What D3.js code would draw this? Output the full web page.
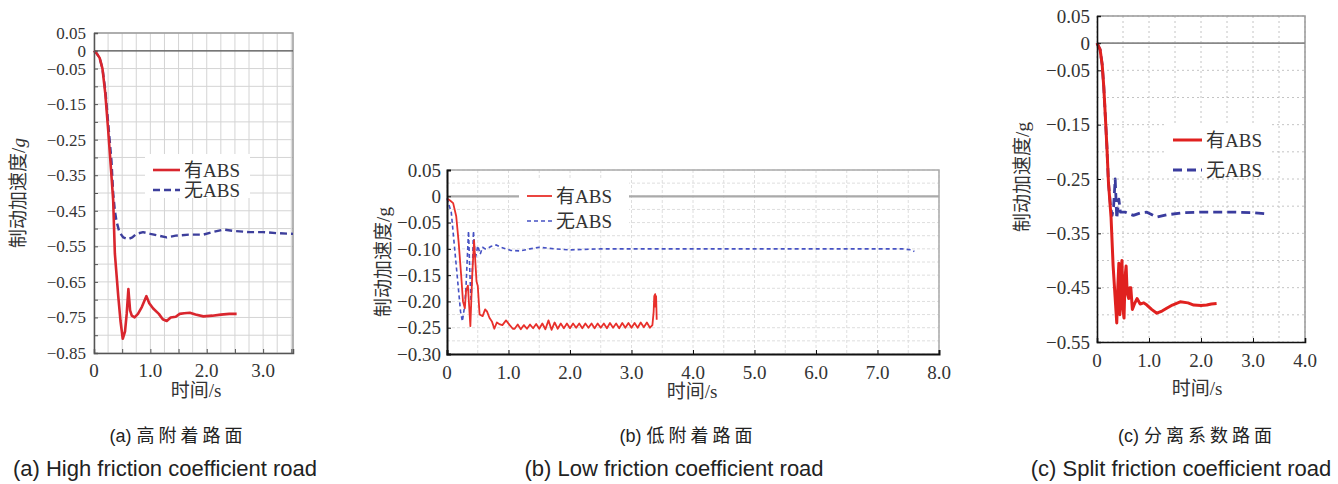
<!DOCTYPE html>
<html>
<head>
<meta charset="utf-8">
<script src="https://cdn.jsdelivr.net/npm/d3@7"></script>
<style>
  body { margin: 0; background: #fff; }
  svg { display: block; }
</style>
</head>
<body>
<svg id="chart" width="1338" height="484"></svg>
<script>
// ---- data (time in s, braking deceleration in g) ----
var legendNames = ["有ABS", "无ABS"];

var highWithAbs = [[0,0],[0.05,-0.008],[0.1,-0.02],[0.15,-0.05],[0.2,-0.12],[0.25,-0.22],[0.3,-0.33],[0.34,-0.42],
  [0.37,-0.57],[0.43,-0.69],[0.47,-0.76],[0.51,-0.81],[0.55,-0.79],[0.58,-0.74],[0.61,-0.67],[0.64,-0.73],
  [0.67,-0.745],[0.72,-0.75],[0.78,-0.74],[0.85,-0.72],[0.93,-0.69],[0.98,-0.71],[1.05,-0.725],[1.15,-0.74],
  [1.22,-0.755],[1.29,-0.76],[1.36,-0.75],[1.45,-0.748],[1.52,-0.74],[1.6,-0.738],[1.7,-0.737],[1.8,-0.742],
  [1.94,-0.747],[2.1,-0.745],[2.25,-0.742],[2.4,-0.74],[2.53,-0.74]];
var highNoAbs = [[0,0],[0.05,-0.008],[0.1,-0.02],[0.15,-0.05],[0.2,-0.11],[0.25,-0.2],[0.31,-0.31],[0.34,-0.4],
  [0.37,-0.45],[0.4,-0.48],[0.45,-0.51],[0.52,-0.525],[0.6,-0.53],[0.68,-0.525],[0.75,-0.515],[0.87,-0.51],
  [1.0,-0.515],[1.15,-0.52],[1.29,-0.525],[1.45,-0.52],[1.7,-0.517],[1.94,-0.517],[2.1,-0.51],[2.3,-0.503],
  [2.5,-0.507],[2.75,-0.51],[3.0,-0.51],[3.25,-0.513],[3.53,-0.515]];

var lowWithAbs = [[0,-0.004],[0.05,-0.008],[0.1,-0.013],[0.15,-0.038],[0.19,-0.088],[0.23,-0.15],[0.26,-0.2],
  [0.29,-0.213],[0.31,-0.18],[0.34,-0.17],[0.38,-0.247],[0.41,-0.15],[0.44,-0.084],[0.48,-0.162],[0.5,-0.17],
  [0.53,-0.225],[0.58,-0.228],[0.62,-0.215],[0.65,-0.219],[0.69,-0.231],[0.73,-0.238],[0.77,-0.252],[0.81,-0.24],
  [0.85,-0.243],[0.9,-0.245],[0.96,-0.236],[1.02,-0.245],[1.07,-0.252],
  [1.10,-0.252],[1.15,-0.244],[1.20,-0.253],[1.25,-0.245],[1.30,-0.252],[1.35,-0.244],[1.40,-0.251],[1.45,-0.243],
  [1.50,-0.252],[1.55,-0.242],[1.60,-0.253],[1.65,-0.236],[1.70,-0.254],[1.75,-0.240],[1.80,-0.252],[1.85,-0.242],
  [1.90,-0.251],[1.95,-0.242],[2.00,-0.251],[2.05,-0.242],[2.10,-0.250],[2.15,-0.242],[2.20,-0.251],[2.25,-0.242],
  [2.30,-0.250],[2.35,-0.242],[2.40,-0.251],[2.45,-0.242],[2.50,-0.250],[2.55,-0.242],[2.60,-0.251],[2.65,-0.241],
  [2.70,-0.250],[2.75,-0.242],[2.80,-0.251],[2.85,-0.241],[2.90,-0.250],[2.95,-0.241],[3.00,-0.250],[3.05,-0.241],
  [3.10,-0.250],[3.15,-0.240],[3.20,-0.249],[3.25,-0.240],[3.30,-0.250],[3.34,-0.245],[3.36,-0.22],[3.37,-0.19],
  [3.385,-0.186],[3.39,-0.21],[3.40,-0.19],[3.41,-0.235]];
var lowNoAbs = [[0,-0.004],[0.07,-0.031],[0.12,-0.094],[0.18,-0.169],[0.22,-0.219],[0.25,-0.238],[0.29,-0.206],
  [0.31,-0.169],[0.35,-0.066],[0.37,-0.14],[0.39,-0.2],[0.41,-0.15],[0.43,-0.066],[0.46,-0.119],[0.5,-0.094],
  [0.54,-0.11],[0.58,-0.097],[0.62,-0.1],[0.66,-0.099],[0.72,-0.095],[0.8,-0.0925],[0.88,-0.097],[0.96,-0.1],
  [1.04,-0.103],[1.19,-0.104],[1.35,-0.1],[1.5,-0.097],[1.75,-0.1],[2.0,-0.102],[2.5,-0.1],[3.0,-0.1],[4.0,-0.1],
  [5.0,-0.1],[6.0,-0.1],[7.0,-0.1],[7.4,-0.1],[7.55,-0.102],[7.6,-0.105]];

var splitWithAbs = [[0,0],[0.03,-0.006],[0.06,-0.012],[0.1,-0.04],[0.13,-0.08],[0.16,-0.134],[0.19,-0.19],
  [0.22,-0.256],[0.27,-0.32],[0.31,-0.41],[0.35,-0.47],[0.38,-0.515],[0.40,-0.45],[0.42,-0.405],[0.44,-0.5],
  [0.46,-0.42],[0.48,-0.40],[0.50,-0.49],[0.52,-0.506],[0.54,-0.43],[0.56,-0.41],[0.58,-0.46],[0.61,-0.47],
  [0.63,-0.45],[0.65,-0.45],[0.68,-0.49],[0.72,-0.48],[0.77,-0.47],[0.83,-0.48],[0.9,-0.478],[0.96,-0.482],
  [1.05,-0.49],[1.15,-0.497],[1.25,-0.493],[1.34,-0.488],[1.45,-0.482],[1.6,-0.476],[1.75,-0.478],[1.86,-0.482],
  [2.0,-0.483],[2.11,-0.482],[2.2,-0.48],[2.3,-0.479]];
var splitNoAbs = [[0,0],[0.03,-0.006],[0.06,-0.012],[0.1,-0.04],[0.13,-0.08],[0.16,-0.134],[0.19,-0.19],
  [0.22,-0.256],[0.26,-0.3],[0.29,-0.317],[0.32,-0.3],[0.35,-0.25],[0.38,-0.323],[0.42,-0.287],[0.45,-0.311],
  [0.54,-0.311],[0.7,-0.317],[0.85,-0.312],[0.96,-0.311],[1.15,-0.32],[1.34,-0.316],[1.66,-0.312],[1.98,-0.311],
  [2.3,-0.311],[2.62,-0.311],[3.0,-0.312],[3.26,-0.314]];

var yTicksHigh = [0.05, 0, -0.05, -0.15, -0.25, -0.35, -0.45, -0.55, -0.65, -0.75, -0.85];
var yTicksLow = [0.05, 0, -0.05, -0.10, -0.15, -0.20, -0.25, -0.30];
var yTicksSplit = [0.05, 0, -0.05, -0.15, -0.25, -0.35, -0.45, -0.55];
var xTicksHigh = [0, 1, 2, 3];
var xTicksLow = [0, 1, 2, 3, 4, 5, 6, 7, 8];
var xTicksSplit = [0, 1, 2, 3, 4];

var captionTags = ["(a) ", "(b) ", "(c) "];
var captionsCn = ["高附着路面", "低附着路面", "分离系数路面"];
var captionsEn = ["(a) High friction coefficient road", "(b) Low friction coefficient road", "(c) Split friction coefficient road"];

var serif = '"Liberation Serif", "Noto Sans CJK SC", serif';
var svg = d3.select("#chart");

var fmtY = function(d) { return d === 0 ? "0" : d3.format(".2f")(d); };
var fmtX = function(d) { return d === 0 ? "0" : d3.format(".1f")(d); };

function drawPanel(p) {
  var x = d3.scaleLinear().domain(p.xDomain).range(p.xRange);
  var y = d3.scaleLinear().domain(p.yDomain).range(p.yRange);
  var g = svg.append("g");
  var x0 = p.xRange[0], x1 = p.xRange[1], y0 = p.yRange[0], y1 = p.yRange[1];

  // grid
  var gx = d3.range(p.xDomain[0], p.xDomain[1] + 1e-9, p.gridX);
  var gy = d3.range(p.yDomain[1], p.yDomain[0] + 1e-9, p.gridY);
  g.selectAll(".gx").data(gx).enter().append("line")
    .attr("x1", function(d){ return x(d); }).attr("x2", function(d){ return x(d); })
    .attr("y1", y0).attr("y2", y1)
    .attr("stroke", p.gridColor).attr("stroke-width", 1)
    .attr("stroke-dasharray", p.gridDash);
  g.selectAll(".gy").data(gy).enter().append("line")
    .attr("x1", x0).attr("x2", x1)
    .attr("y1", function(d){ return y(d); }).attr("y2", function(d){ return y(d); })
    .attr("stroke", p.gridColor).attr("stroke-width", 1)
    .attr("stroke-dasharray", p.gridDash);

  // frame (top/right light)
  g.append("path")
    .attr("d", "M" + x0 + "," + y0 + "H" + x1 + "V" + y1)
    .attr("fill", "none").attr("stroke", p.frameColor).attr("stroke-width", 1.5);

  // zero line
  g.append("line").attr("x1", x0).attr("x2", x1)
    .attr("y1", y(0)).attr("y2", y(0))
    .attr("stroke", p.zeroColor).attr("stroke-width", p.zeroWidth);

  // legend box (drawn under curves)
  g.append("rect").attr("x", p.legend.x - 8).attr("y", p.legend.y - 16)
    .attr("width", p.legend.w).attr("height", p.legend.h).attr("fill", "#fff");

  // curves
  var line = d3.line().x(function(d){ return x(d[0]); }).y(function(d){ return y(d[1]); });
  g.append("path").datum(p.noAbs).attr("d", line).attr("fill", "none")
    .attr("stroke", p.blue).attr("stroke-width", p.blueWidth)
    .attr("stroke-dasharray", p.blueDash).attr("stroke-linejoin", "round");
  g.append("path").datum(p.withAbs).attr("d", line).attr("fill", "none")
    .attr("stroke", p.red).attr("stroke-width", p.redWidth).attr("stroke-linejoin", "round");

  // axes
  var yAxis = d3.axisLeft(y).tickValues(p.yTickMarks).tickSize(-4).tickFormat("");
  g.append("g").attr("transform", "translate(" + x0 + ",0)").call(yAxis)
    .call(function(s){ s.select(".domain").attr("stroke", p.axisColor).attr("stroke-width", p.axisWidth); s.selectAll(".tick line").attr("stroke", p.axisColor); });
  g.selectAll(".ylab").data(p.yTicks).enter().append("text")
    .attr("x", x0 - p.yLabGap).attr("y", function(d){ return y(d); })
    .attr("dy", "0.35em").attr("text-anchor", "end")
    .attr("font-family", serif).attr("font-size", p.yTickFont).attr("fill", "#333")
    .text(fmtY);

  var xAxis = d3.axisBottom(x).tickValues(p.xTickMarks).tickSize(-4).tickFormat("");
  g.append("g").attr("transform", "translate(0," + y1 + ")").call(xAxis)
    .call(function(s){ s.select(".domain").attr("stroke", p.axisColor).attr("stroke-width", p.axisWidth); s.selectAll(".tick line").attr("stroke", p.axisColor); });
  g.selectAll(".xlab").data(p.xTicks).enter().append("text")
    .attr("x", function(d){ return x(d); }).attr("y", p.xLabY)
    .attr("dy", "0.35em").attr("text-anchor", "middle")
    .attr("font-family", serif).attr("font-size", 19).attr("fill", "#333")
    .text(fmtX);

  // axis titles
  var yt = g.append("text").attr("transform", "translate(" + p.yTitle[0] + "," + p.yTitle[1] + ") rotate(-90)")
    .attr("text-anchor", "middle").attr("dy", "0.35em")
    .attr("font-family", serif).attr("font-size", 19).attr("fill", "#333");
  yt.append("tspan").text("制动加速度/");
  yt.append("tspan").attr("font-style", p.italicG ? "italic" : "normal").text("g");
  g.append("text").attr("x", p.xTitle[0]).attr("y", p.xTitle[1])
    .attr("text-anchor", "middle").attr("dy", "0.35em")
    .attr("font-family", serif).attr("font-size", 19).attr("fill", "#333")
    .text("时间/s");

  // legend
  var L = p.legend;
  g.append("line").attr("x1", L.x).attr("x2", L.x + L.len).attr("y1", L.y).attr("y2", L.y)
    .attr("stroke", p.red).attr("stroke-width", p.redWidth);
  g.append("line").attr("x1", L.x).attr("x2", L.x + L.len).attr("y1", L.y + L.dy).attr("y2", L.y + L.dy)
    .attr("stroke", p.blue).attr("stroke-width", p.blueWidth).attr("stroke-dasharray", p.blueDash);
  g.selectAll(".leg").data(legendNames).enter().append("text")
    .attr("x", L.x + L.len + 4).attr("y", function(d, i){ return L.y + i * L.dy; })
    .attr("dy", "0.35em").attr("font-family", serif).attr("font-size", 19).attr("fill", "#333")
    .text(function(d){ return d; });

  // captions
  var cn = g.append("text").attr("x", p.capCn).attr("y", 436).attr("dy", "0.35em")
    .attr("text-anchor", "middle").attr("font-family", '"Liberation Sans", "Noto Sans CJK SC", sans-serif')
    .attr("font-size", 18).attr("fill", "#222");
  cn.append("tspan").text(p.captionTag);
  cn.append("tspan").attr("letter-spacing", 4).text(p.captionCn);
  g.append("text").attr("x", p.capEn).attr("y", 468).attr("dy", "0.35em")
    .attr("text-anchor", "middle").attr("font-family", '"Liberation Sans", sans-serif')
    .attr("font-size", 22).attr("fill", "#222").text(p.captionEn);
}

drawPanel({
  xDomain: [0, 3.53], xRange: [94, 293], yDomain: [0.05, -0.85], yRange: [33, 353],
  gridX: 0.25, gridY: 0.05, gridColor: "#d4d4d4", gridDash: null,
  frameColor: "#9a9a9a", zeroColor: "#555", zeroWidth: 1.2, axisColor: "#555", axisWidth: 1.5,
  withAbs: highWithAbs, noAbs: highNoAbs,
  red: "#d9262e", redWidth: 2.6, blue: "#3d3f9c", blueWidth: 2.4, blueDash: "7,4",
  yTicks: yTicksHigh, yTickMarks: d3.range(-0.85, 0.0501, 0.05), xTicks: xTicksHigh, xTickMarks: [0.5, 1, 1.5, 2, 2.5, 3, 3.5],
  yTickFont: 17, yLabGap: 8, xLabY: 370, yTitle: [18, 193], xTitle: [196, 390], italicG: true,
  legend: { x: 153, y: 170, dy: 20, len: 27, w: 105, h: 44 },
  captionTag: captionTags[0], captionCn: captionsCn[0], captionEn: captionsEn[0], capCn: 178, capEn: 165
});

drawPanel({
  xDomain: [0, 8], xRange: [447, 939], yDomain: [0.05, -0.30], yRange: [170, 354],
  gridX: 0.5, gridY: 0.025, gridColor: "#dedede", gridDash: "3,2",
  frameColor: "#aaa", zeroColor: "#aaa", zeroWidth: 2.2, axisColor: "#111", axisWidth: 2,
  withAbs: lowWithAbs, noAbs: lowNoAbs,
  red: "#e8302b", redWidth: 1.8, blue: "#4652c4", blueWidth: 1.6, blueDash: "4,3",
  yTicks: yTicksLow, yTickMarks: yTicksLow, xTicks: xTicksLow, xTickMarks: xTicksLow,
  yTickFont: 19, yLabGap: 6, xLabY: 372, yTitle: [383, 262], xTitle: [692, 391], italicG: false,
  legend: { x: 527, y: 196, dy: 25, len: 25, w: 110, h: 50 },
  captionTag: captionTags[1], captionCn: captionsCn[1], captionEn: captionsEn[1], capCn: 688, capEn: 674
});

drawPanel({
  xDomain: [0, 4], xRange: [1097, 1305], yDomain: [0.05, -0.55], yRange: [16, 342],
  gridX: 0.5, gridY: 0.05, gridColor: "#c4c4c4", gridDash: "2,3",
  frameColor: "#999", zeroColor: "#888", zeroWidth: 1.6, axisColor: "#111", axisWidth: 1.6,
  withAbs: splitWithAbs, noAbs: splitNoAbs,
  red: "#e0211f", redWidth: 3, blue: "#3a3c9e", blueWidth: 2.8, blueDash: "9,5",
  yTicks: yTicksSplit, yTickMarks: yTicksSplit, xTicks: xTicksSplit, xTickMarks: xTicksSplit,
  yTickFont: 19, yLabGap: 7, xLabY: 360, yTitle: [1022, 177], xTitle: [1197, 388], italicG: false,
  legend: { x: 1173, y: 140, dy: 30, len: 29, w: 105, h: 52 },
  captionTag: captionTags[2], captionCn: captionsCn[2], captionEn: captionsEn[2], capCn: 1197, capEn: 1181
});
</script>
</body>
</html>
